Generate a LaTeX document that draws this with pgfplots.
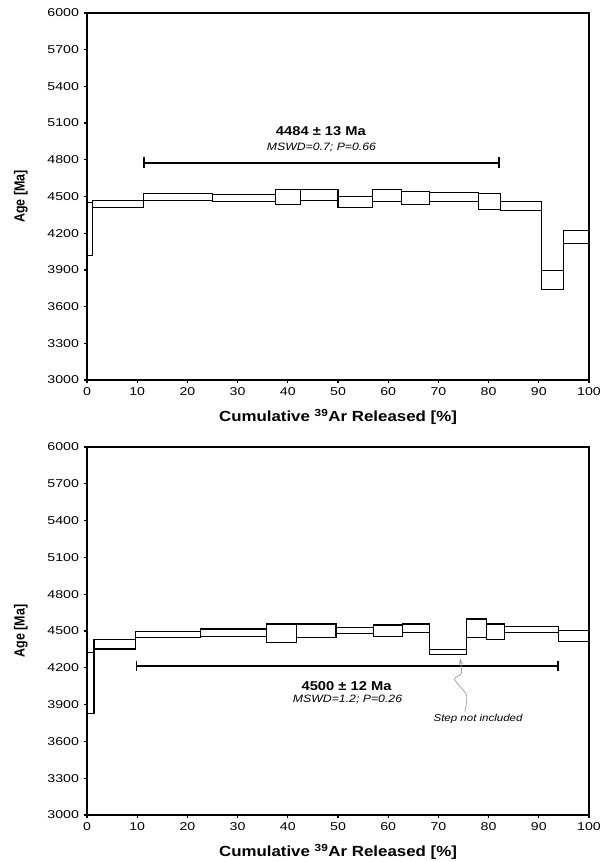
\documentclass[border=0pt]{standalone}
\usepackage{fontspec}
\setmainfont{Liberation Sans}
\newfontfamily\wide[FakeStretch=1.15]{Liberation Sans}
\newfontfamily\narrow[FakeStretch=0.85]{Liberation Sans}
\newfontfamily\tickfont[FakeStretch=1.25]{Liberation Sans}
\usepackage{pgfplots}
\pgfplotsset{compat=1.18}
\usetikzlibrary{arrows.meta}

% one heating step: x from, x to, age low, age high
\newcommand{\stepbox}[4]{%
  \addplot[draw=black, line width=0.8pt, fill=white, line join=miter, sharp plot]
    coordinates {(#1,#3) (#2,#3) (#2,#4) (#1,#4) (#1,#3)};}

\pgfplotsset{
  agespec/.style={
    scale only axis,
    width=376.5pt,
    xmin=0, xmax=100,
    ymin=3000, ymax=6000,
    xtick={0,10,...,100},
    ytick={3000,3300,...,6000},
    tick align=outside,
    xtick pos=left, ytick pos=left,
    major tick length=2.5pt,
    axis line style={line width=1.4pt},
    tick style={line width=1pt, black},
    ticklabel style={font=\tickfont\fontsize{8.5}{9}\selectfont},
    /pgf/number format/assume math mode=true,
    /pgf/number format/1000 sep={},
    xlabel={\wide\fontsize{11}{12}\selectfont\bfseries Cumulative \textsuperscript{39}Ar Released [\%]},
    ylabel={\narrow\fontsize{11}{12}\selectfont\bfseries Age [Ma]},
    xlabel style={at={(axis description cs:0.5,-0.1)}, anchor=center},
    ylabel style={at={(axis description cs:-0.1315,0.5)}, anchor=center},
    clip=false,
  },
  edge/.style={black, line width=0.8pt, const plot, line join=miter},
}

\begin{document}
\begin{tikzpicture}
\path[use as bounding box] (0,0) rectangle (452.25pt,646.5pt);

% --- upper spectrum ---
\begin{axis}[agespec, height=275.25pt, at={(65.25pt,361.5pt)}, anchor=south west]
  \stepbox{0}{1.1}{4016}{4453}
  \stepbox{1.1}{11.2}{4409}{4466}
  \stepbox{11.2}{25.0}{4469}{4526}
  \stepbox{25.0}{37.5}{4458}{4518}
  \stepbox{37.5}{42.6}{4436}{4556}
  \stepbox{42.6}{50.0}{4469}{4556}
  \stepbox{50.0}{56.9}{4409}{4499}
  \stepbox{56.9}{62.7}{4461}{4556}
  \stepbox{62.7}{68.3}{4436}{4539}
  \stepbox{68.3}{77.9}{4458}{4531}
  \stepbox{77.9}{82.3}{4392}{4523}
  \stepbox{82.3}{90.6}{4384}{4458}
  \stepbox{90.6}{95.0}{3736}{3894}
  \stepbox{95.0}{100}{4112}{4221}
  % upper and lower envelopes
  \addplot[edge] coordinates {(0,4453) (1.1,4466) (11.2,4526) (25.0,4518) (37.5,4556) (42.6,4556) (50.0,4499) (56.9,4556) (62.7,4539) (68.3,4531) (77.9,4523) (82.3,4458) (90.6,3894) (95.0,4221) (100,4221)};
  \addplot[edge] coordinates {(0,4016) (1.1,4409) (11.2,4469) (25.0,4458) (37.5,4436) (42.6,4469) (50.0,4409) (56.9,4461) (62.7,4436) (68.3,4458) (77.9,4392) (82.3,4384) (90.6,3736) (95.0,4112) (100,4112)};
  % plateau
  \addplot[line width=1.5pt, {Bar[width=8pt]}-{Bar[width=8pt]}] coordinates {(11.2,4777) (82.3,4777)};
  \node[font=\wide\fontsize{9.6}{10}\selectfont\bfseries] at (axis cs:46.6,5035) {4484 ± 13 Ma};
  \node[font=\wide\fontsize{8}{9}\selectfont\itshape] at (axis cs:46.7,4902) {MSWD=0.7; P=0.66};
\end{axis}

% --- lower spectrum ---
\begin{axis}[agespec, height=276pt, at={(65.25pt,35.25pt)}, anchor=south west]
  \stepbox{0}{1.4}{3829}{4323}
  \stepbox{1.4}{9.7}{4353}{4427}
  \stepbox{9.7}{22.7}{4448}{4497}
  \stepbox{22.7}{35.8}{4457}{4516}
  \stepbox{35.8}{41.8}{4410}{4557}
  \stepbox{41.8}{49.6}{4448}{4557}
  \stepbox{49.6}{57.0}{4476}{4530}
  \stepbox{57.0}{62.9}{4457}{4549}
  \stepbox{62.9}{68.3}{4486}{4557}
  \stepbox{68.3}{75.6}{4310}{4351}
  \stepbox{75.6}{79.5}{4448}{4598}
  \stepbox{79.5}{83.1}{4429}{4557}
  \stepbox{83.1}{94.0}{4486}{4535}
  \stepbox{94.0}{100}{4418}{4503}
  % upper and lower envelopes
  \addplot[edge] coordinates {(0,4323) (1.4,4427) (9.7,4497) (22.7,4516) (35.8,4557) (41.8,4557) (49.6,4530) (57.0,4549) (62.9,4557) (68.3,4351) (75.6,4598) (79.5,4557) (83.1,4535) (94.0,4503) (100,4503)};
  \addplot[edge] coordinates {(0,3829) (1.4,4353) (9.7,4448) (22.7,4457) (35.8,4410) (41.8,4448) (49.6,4476) (57.0,4457) (62.9,4486) (68.3,4310) (75.6,4448) (79.5,4429) (83.1,4486) (94.0,4418) (100,4418)};
  % plateau
  \addplot[line width=1.3pt, {Bar[width=7pt]}-{Bar[width=7pt]}] coordinates {(9.7,4215) (94.0,4215)};
  \node[font=\wide\fontsize{9.6}{10}\selectfont\bfseries] at (axis cs:51.7,4052) {4500 ± 12 Ma};
  \node[font=\wide\fontsize{8}{9}\selectfont\itshape] at (axis cs:51.9,3938) {MSWD=1.2; P=0.26};
  % excluded step
  \addplot[gray!70, line width=0.6pt, smooth, tension=0.4, -{Stealth[length=5pt,width=3pt]}]
    coordinates {(75.3,3842) (75.6,3978) (73.2,4106) (74.6,4155) (74.3,4280)};
  \node[font=\wide\fontsize{7.5}{9}\selectfont\itshape] at (axis cs:77.9,3780) {Step not included};
\end{axis}
\end{tikzpicture}
\end{document}
